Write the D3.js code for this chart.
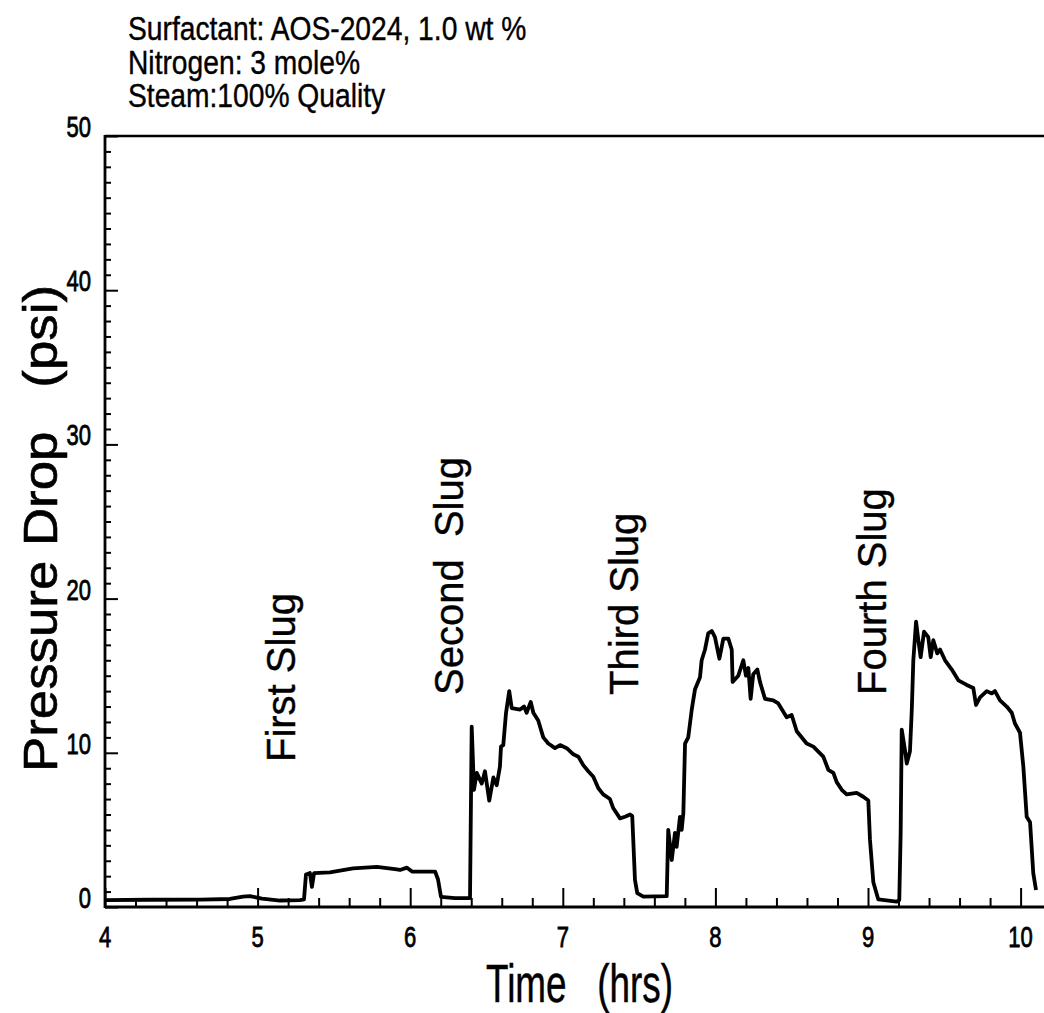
<!DOCTYPE html>
<html>
<head>
<meta charset="utf-8">
<script src="https://cdn.jsdelivr.net/npm/d3@7"></script>
<style>
  html, body { margin: 0; padding: 0; background: #fff; }
  svg { display: block; }
  text { font-family: "Liberation Sans", Arial, sans-serif; fill: #000; white-space: pre; }
</style>
</head>
<body>
<svg id="chart" width="1044" height="1013"></svg>
<script>
// ---- data ----
const headerLines = [
  "Surfactant: AOS-2024, 1.0 wt %",
  "Nitrogen: 3 mole%",
  "Steam:100% Quality"
];
const xTitle = "Time   (hrs)";
const yTitle = "Pressure Drop   (psi)";
const xMajorTicks = [4, 5, 6, 7, 8, 9, 10];
const yMajorTicks = [0, 10, 20, 30, 40, 50];
const slugNames = ["First Slug", "Second  Slug", "Third Slug", "Fourth Slug"];
const slugTimes = [5.245, 6.346, 7.49, 9.121];   // label positions along time axis
const slugBottoms = [9.4, 13.75, 13.75, 13.75];  // psi where label text starts

const timeHrs = [
  4.000, 4.295, 4.623, 4.819, 4.904, 4.950, 5.029, 5.147, 5.278, 5.304,
  5.317, 5.343, 5.356, 5.370, 5.474, 5.625, 5.782, 5.900, 5.933, 5.979,
  6.012, 6.163, 6.182, 6.202, 6.294, 6.392,
  6.403, 6.418, 6.436, 6.469, 6.490, 6.518, 6.545, 6.567, 6.588, 6.595,
  6.610, 6.628, 6.649, 6.665, 6.720, 6.746, 6.763, 6.790, 6.807, 6.839,
  6.872, 6.905, 6.949, 6.982, 7.026, 7.069, 7.102, 7.134, 7.167, 7.200,
  7.233, 7.265, 7.309, 7.331, 7.375, 7.408, 7.441, 7.455, 7.473, 7.488,
  7.528, 7.681,
  7.691, 7.714, 7.735, 7.746, 7.768, 7.779, 7.790, 7.801, 7.822, 7.845,
  7.866, 7.899, 7.910, 7.932, 7.953, 7.976, 7.997, 8.026, 8.052, 8.085,
  8.107, 8.113, 8.150, 8.183, 8.200, 8.216, 8.231, 8.248, 8.275, 8.292,
  8.325, 8.379, 8.412, 8.467, 8.500, 8.533, 8.598, 8.642, 8.707, 8.740,
  8.773, 8.795, 8.828, 8.860, 8.926, 8.969, 9.002, 9.013, 9.035, 9.067,
  9.188, 9.205,
  9.214, 9.221, 9.242, 9.254, 9.275, 9.287, 9.297, 9.315, 9.330, 9.345,
  9.367, 9.395, 9.411, 9.428, 9.454, 9.472, 9.505, 9.549, 9.592, 9.647,
  9.690, 9.708, 9.734, 9.778, 9.811, 9.832, 9.865, 9.909, 9.942, 9.963,
  9.996, 10.018, 10.040, 10.062, 10.083, 10.101
];
const pressurePsi = [
  0.45, 0.47, 0.48, 0.52, 0.67, 0.70, 0.55, 0.42, 0.45, 0.50,
  2.10, 2.20, 1.30, 2.20, 2.25, 2.50, 2.60, 2.45, 2.40, 2.55,
  2.30, 2.30, 1.80, 0.65, 0.58, 0.58,
  11.7, 7.6, 8.7, 8.0, 8.8, 6.9, 8.4, 7.9, 9.1, 10.4,
  10.5, 12.6, 14.0, 12.9, 12.8, 13.0, 12.6, 13.3, 12.6, 12.1,
  11.0, 10.6, 10.3, 10.5, 10.3, 9.9, 9.75, 9.2, 8.8, 8.45,
  7.7, 7.3, 7.0, 6.4, 5.75, 5.85, 6.0, 5.9, 1.75, 0.9,
  0.67, 0.70,
  5.0, 3.05, 4.8, 3.9, 5.85, 5.0, 6.1, 10.6, 11.0, 12.8,
  14.1, 14.9, 16.0, 16.7, 17.75, 17.9, 17.5, 16.1, 17.4, 17.4,
  16.7, 14.6, 15.0, 16.0, 15.0, 15.5, 13.5, 15.1, 15.4, 14.6,
  13.5, 13.4, 13.2, 12.3, 12.45, 11.4, 10.6, 10.4, 9.75, 8.9,
  8.7, 8.1, 7.6, 7.3, 7.4, 7.15, 6.9, 4.35, 1.6, 0.5,
  0.35, 0.45,
  4.8, 11.5, 10.2, 9.3, 10.1, 12.8, 16.0, 18.5, 17.3, 16.2,
  17.85, 17.5, 16.2, 17.3, 16.45, 16.7, 16.0, 15.4, 14.7, 14.4,
  14.2, 13.1, 13.6, 14.0, 13.85, 14.0, 13.4, 13.0, 12.6, 11.9,
  11.3, 9.1, 5.85, 5.5, 2.2, 1.1
];

// ---- layout ----
const svg = d3.select("#chart");
const x = d3.scaleLinear().domain([4, 10]).range([105, 1020.6]);
const y = d3.scaleLinear().domain([0, 50]).range([907, 136]);
const xMinor = d3.range(4, 10.001, 0.2).map(v => +v.toFixed(1)).filter(v => !xMajorTicks.includes(v));
const yMinor = d3.range(0, 50.001, 1).filter(v => !yMajorTicks.includes(v));

// header text (condensed face)
svg.append("g").selectAll("text").data(headerLines).join("text")
  .attr("transform", (d, i) => `translate(128,${40 + i * 33.5}) scale(0.83,1)`)
  .attr("font-size", 34)
  .attr("stroke", "#000").attr("stroke-width", 0.4)
  .text(d => d);

// frame lines: left axis, bottom axis, top line
const axisG = svg.append("g").attr("stroke", "#000").attr("fill", "none");
axisG.append("line").attr("x1", x(4)).attr("x2", 1044).attr("y1", y(0)).attr("y2", y(0)).attr("stroke-width", 2.8);
axisG.append("line").attr("x1", x(4)).attr("x2", 1044).attr("y1", y(50)).attr("y2", y(50)).attr("stroke-width", 2.4);
axisG.append("line").attr("x1", x(4)).attr("x2", x(4)).attr("y1", y(50) - 1).attr("y2", y(0) + 1).attr("stroke-width", 2.8);

// x axis ticks (inward)
const xAxisMajor = d3.axisBottom(x).tickValues(xMajorTicks).tickSize(-19).tickFormat("");
const xAxisMinor = d3.axisBottom(x).tickValues(xMinor).tickSize(-9).tickFormat("");
const gxM = svg.append("g").attr("transform", `translate(0,${y(0)})`).call(xAxisMajor);
const gxm = svg.append("g").attr("transform", `translate(0,${y(0)})`).call(xAxisMinor);
[gxM, gxm].forEach(g => { g.select(".domain").remove(); g.selectAll("line").attr("stroke", "#000").attr("stroke-width", 2); });

// y axis ticks (inward)
const yAxisMajor = d3.axisLeft(y).tickValues(yMajorTicks).tickSize(-13).tickFormat("");
const yAxisMinor = d3.axisLeft(y).tickValues(yMinor).tickSize(-6).tickFormat("");
const gyM = svg.append("g").attr("transform", `translate(${x(4)},0)`).call(yAxisMajor);
const gym = svg.append("g").attr("transform", `translate(${x(4)},0)`).call(yAxisMinor);
[gyM, gym].forEach(g => { g.select(".domain").remove(); g.selectAll("line").attr("stroke", "#000").attr("stroke-width", 2); });

// tick labels (condensed)
svg.append("g").selectAll("text").data(xMajorTicks).join("text")
  .attr("transform", d => `translate(${x(d)},947) scale(0.76,1)`)
  .attr("text-anchor", "middle")
  .attr("font-size", 29)
  .attr("stroke", "#000").attr("stroke-width", 0.8)
  .text(d => d);
svg.append("g").selectAll("text").data(yMajorTicks).join("text")
  .attr("transform", d => `translate(91,${y(d) + 1}) scale(0.76,1)`)
  .attr("text-anchor", "end")
  .attr("font-size", 29)
  .attr("stroke", "#000").attr("stroke-width", 0.8)
  .text(d => d);

// axis titles
svg.append("text")
  .attr("x", 486).attr("y", 1002)
  .attr("font-size", 53)
  .attr("textLength", 187)
  .attr("lengthAdjust", "spacingAndGlyphs")
  .attr("stroke", "#000").attr("stroke-width", 0.5)
  .text(xTitle);
svg.append("text")
  .attr("transform", "translate(57,772) rotate(-90)")
  .attr("font-size", 48)
  .attr("textLength", 487)
  .attr("lengthAdjust", "spacingAndGlyphs")
  .attr("stroke", "#000").attr("stroke-width", 0.6)
  .text(yTitle);

// slug labels
svg.append("g").selectAll("text").data(slugNames).join("text")
  .attr("transform", (d, i) => `translate(${x(slugTimes[i])},${y(slugBottoms[i])}) rotate(-90)`)
  .attr("font-size", 40)
  .attr("stroke", "#000").attr("stroke-width", 0.4)
  .text(d => d);

// data line
const pts = timeHrs.map((t, i) => [t, pressurePsi[i]]);
svg.append("path")
  .datum(pts)
  .attr("fill", "none")
  .attr("stroke", "#000")
  .attr("stroke-width", 3.8)
  .attr("stroke-linejoin", "round")
  .attr("d", d3.line().x(d => x(d[0])).y(d => y(d[1])));
</script>
</body>
</html>
